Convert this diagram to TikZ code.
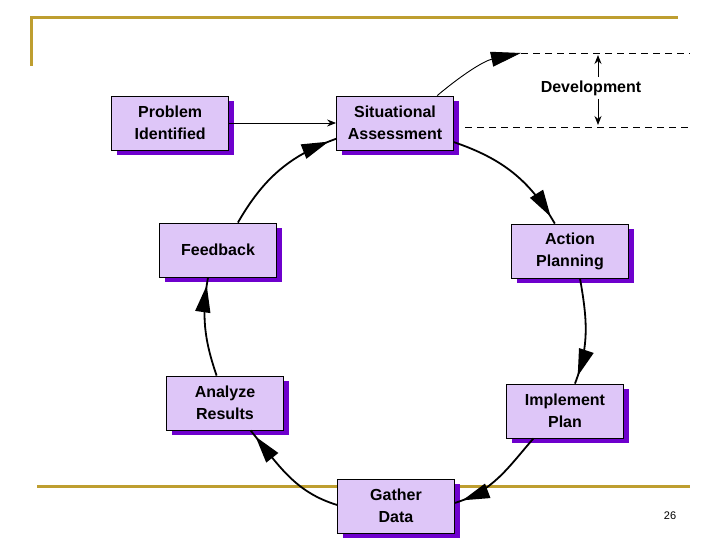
\documentclass[tikz,border=0pt]{standalone}
\usepackage{fontspec}
\setmainfont{Liberation Sans}
\usetikzlibrary{arrows.meta,positioning,shadows,decorations.markings}
\definecolor{boxfill}{RGB}{222,198,248}
\definecolor{boxshade}{RGB}{110,0,205}
\definecolor{rulegold}{RGB}{190,158,48}

\begin{document}
\begin{tikzpicture}[x=1pt,y=1pt,
    box/.style={draw, line width=0.8pt, fill=boxfill, minimum width=117pt, minimum height=54pt,
        align=center, font=\fontsize{16}{22}\selectfont\bfseries,
        drop shadow={shadow xshift=5pt,shadow yshift=-5pt,fill=boxshade,opacity=1}},
    flow/.style={line width=1.8pt, postaction={decorate},
        decoration={markings, mark=at position -8pt with {\arrow{Triangle[length=27pt,width=15pt]}}}},
    link/.style={line width=0.9pt,-{Stealth[length=9pt,width=7pt]}},
    level/.style={dash pattern=on 7pt off 5pt, line width=0.9pt},
    goldrule/.style={rulegold, line width=3pt}
]
\useasboundingbox (0,0) rectangle (720,540);

% slide frame
\draw[goldrule] (31,474) -- (31,522) -- (678,522);
\draw[goldrule] (37,53) -- (690,53);

% the cycle
\node[box] (sit) at (395,417) {Situational\\Assessment};
\node[box, left=107pt of sit] (prob) {Problem\\Identified};
\node[box] (act) at (570,289) {Action\\Planning};
\node[box] (imp) at (565,129) {Implement\\Plan};
\node[box] (gat) at (396,34) {Gather\\Data};
\node[box] (ana) at (225,137) {Analyze\\Results};
\node[box] (fb) at (218,290) {Feedback};

\draw[link] (prob.east) -- (sit.west);

\draw[flow] (sit.-18) to[out=-19,in=120] (act.119);
\draw[flow] (act.-70) to[out=-80,in=69] (imp.70);
\draw[flow] (imp.-139) to[out=-131,in=17] (gat.3);
\draw[flow] (gat.179) to[out=163,in=-51] (ana.-47);
\draw[flow] (ana.107) to[out=109,in=-100] (fb.-110);
\draw[flow] (fb.54) to[out=60,in=200] (sit.-165);

% development band
\coordinate (devtip) at (521,487);
\coordinate (topend) at (690,487);
\coordinate (botstart) at (465,413);
\coordinate (botend) at (690,413);
\coordinate (uptip) at (598,485);
\coordinate (dntip) at (598,415);
\node[font=\fontsize{16}{20}\selectfont\bfseries] (dev) at (591,452) {Development};

\draw[line width=0.9pt, -{Triangle[length=30pt,width=15pt]}] (sit.33) to[out=40,in=192] (devtip);
\draw[level] (devtip) -- (topend);
\draw[level] (botstart) -- (botend);
\draw[link] ([xshift=7pt]dev.north) -- (uptip);
\draw[link] ([xshift=7pt]dev.south) -- (dntip);

\node[font=\fontsize{11}{13}\selectfont] (pg) at (670,24) {26};
\end{tikzpicture}
\end{document}
